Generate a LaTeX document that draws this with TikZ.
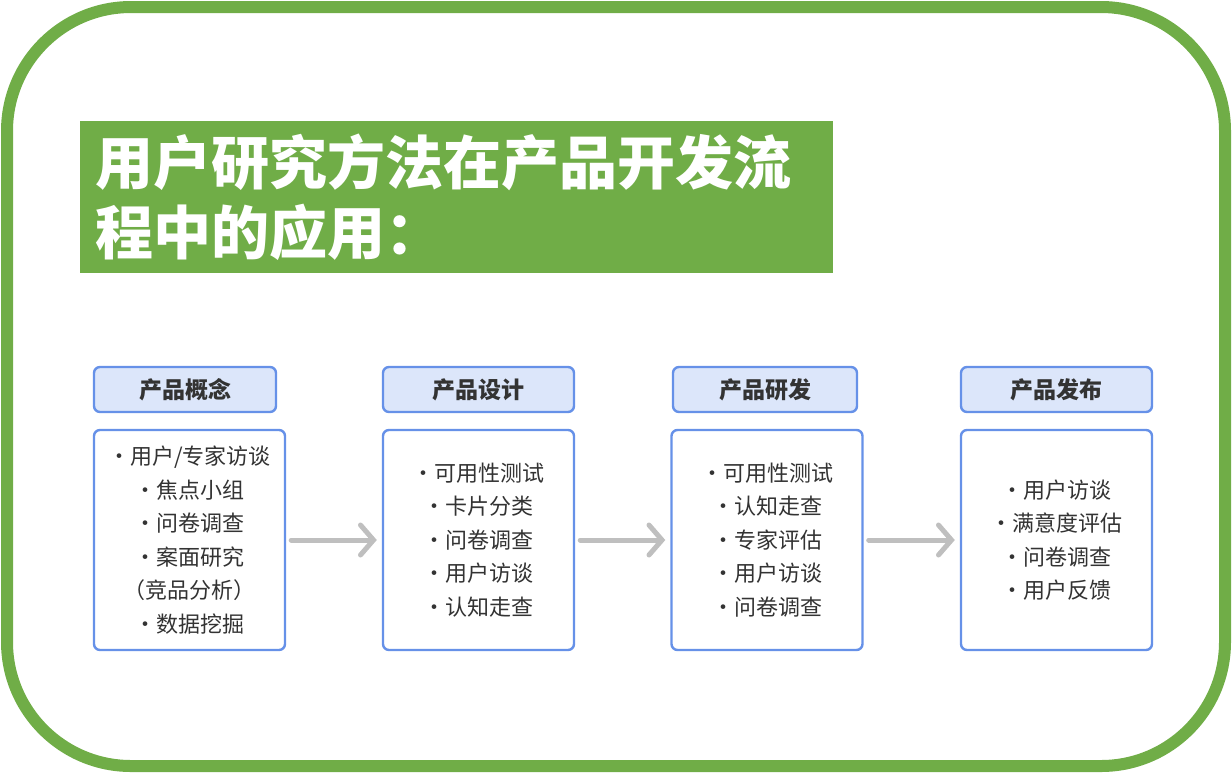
\documentclass[tikz,border=0pt]{standalone}
\usepackage{fontspec}
\setmainfont{Noto Sans CJK SC}
\usepackage{xcolor}
\usetikzlibrary{arrows.meta, positioning}

\definecolor{frameGreen}{RGB}{112,173,71}
\definecolor{stageBlue}{RGB}{102,145,232}
\definecolor{stageFill}{RGB}{220,230,250}
\definecolor{flowGray}{RGB}{191,191,191}
\definecolor{textGray}{RGB}{51,51,51}

\begin{document}
\begin{tikzpicture}[
            x=0.5pt, y=-0.5pt,
            frame/.style={draw=frameGreen, line width=6pt, rounded corners=62pt},
            titlebox/.style={fill=frameGreen, text=white, anchor=north west, inner xsep=7.5pt,
                minimum height=76pt, text width=361.5pt, align=left,
                font=\fontsize{29}{35}\selectfont\bfseries},
            stage/.style={draw=stageBlue, line width=1.2pt, fill=stageFill, rounded corners=3pt,
                minimum width=95.5pt, minimum height=22.5pt, text=textGray,
                font=\fontsize{11.5}{14}\selectfont\bfseries},
            methods/.style={draw=stageBlue, line width=1.2pt, fill=white, rounded corners=3pt,
                minimum width=95.5pt, minimum height=110pt, text=textGray, align=center,
                font=\fontsize{11}{16.75}\selectfont},
            flow/.style={draw=flowGray, line width=2.5pt, line cap=round, shorten <=2.5pt, shorten >=2.5pt,
                -{Straight Barb[length=6.5pt, width=15pt, line cap=round]}}
        ]
            \useasboundingbox (0,0) rectangle (1232,773);
            \draw[frame] (7,7) rectangle (1225,766);

            \node[titlebox] (title) at (80,121) {用户研究方法在产品开发流\\程中的应用：};

            % stage headers
            \node[stage, minimum width=91pt] (h1) at (185,389.5) {产品概念};
            \node[stage] (h2) at (478.5,389.5) {产品设计};
            \node[stage, minimum width=92pt] (h3) at (765,389.5) {产品研发};
            \node[stage] (h4) at (1056.5,389.5) {产品发布};

            % methods per stage
            \node[methods] (m1) at (189.5,540) {・用户/专家访谈\\・焦点小组\\・问卷调查\\・案面研究\\（竞品分析）\\・数据挖掘};
            \node[methods] (m2) at (478.5,540) {・可用性测试\\・卡片分类\\・问卷调查\\・用户访谈\\・认知走查};
            \node[methods] (m3) at (767,540) {・可用性测试\\・认知走查\\・专家评估\\・用户访谈\\・问卷调查};
            \node[methods] (m4) at (1056.5,540) {・用户访谈\\・满意度评估\\・问卷调查\\・用户反馈};

            \draw[flow] (m1) -- (m2);
            \draw[flow] (m2) -- (m3);
            \draw[flow] (m3) -- (m4);
        \end{tikzpicture}
\end{document}
